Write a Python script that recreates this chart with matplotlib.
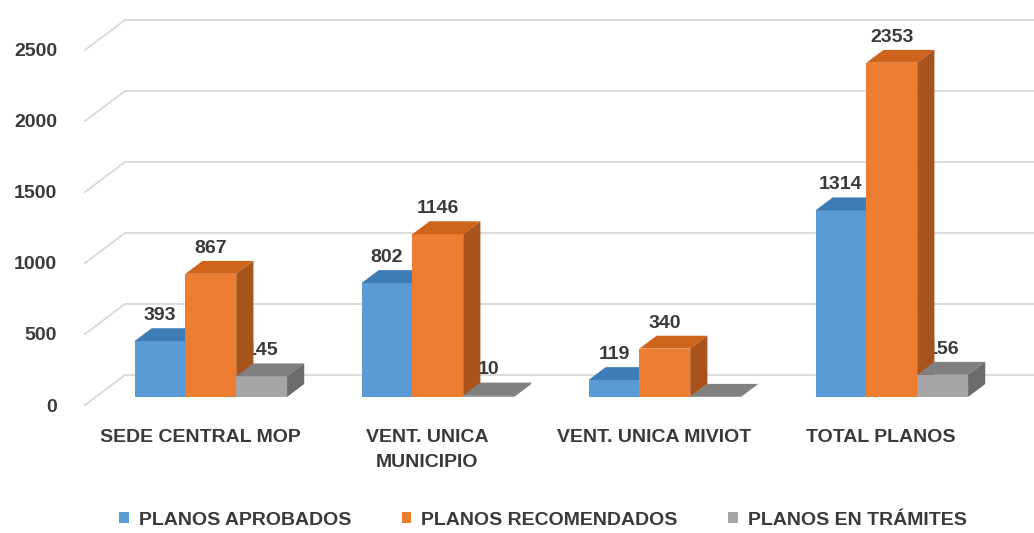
import matplotlib
matplotlib.use("Agg")
import matplotlib.pyplot as plt
from matplotlib.patches import Polygon, Patch

# data
categories = ["SEDE CENTRAL MOP", "VENT. UNICA\nMUNICIPIO", "VENT. UNICA MIVIOT", "TOTAL PLANOS"]
series_names = ["PLANOS APROBADOS", "PLANOS RECOMENDADOS", "PLANOS EN TRÁMITES"]
aprobados = [393, 802, 119, 1314]
recomendados = [867, 1146, 340, 2353]
tramites = [145, 10, 1, 156]
y_ticks = [0, 500, 1000, 1500, 2000, 2500]

# face colours (front, top, side) for each series
face_colors = [
    ("#5B9BD5", "#3E7CB8", "#2F5F8F"),
    ("#ED7D31", "#D0631B", "#A8521C"),
    ("#A5A5A5", "#808080", "#6B6B6B"),
]
text_color = "#3A3A3A"

plt.rcParams["font.family"] = ["Liberation Sans", "DejaVu Sans"]
plt.rcParams["font.weight"] = "bold"

fig = plt.figure(figsize=(10.34, 5.33), dpi=100)
ax = fig.add_axes([85 / 1034, 128 / 533, 949 / 1034, 405 / 533])
ax.set_xlim(-0.5066, 3.674)
ax.set_ylim(0, 2852)

# fake 3d geometry (data units)
depth_dx, depth_dy = 0.176, 211   # full floor depth
f_front, f_back = 0.27, 0.70      # where the bars sit in depth
bar_w = 0.224

x_left = ax.get_xlim()[0]
x_right = ax.get_xlim()[1]

# back wall gridlines + floor diagonals
for v in y_ticks:
    ax.plot([x_left, x_left + depth_dx], [v, v + depth_dy], color="#D9D9D9", lw=1.3, zorder=1, clip_on=False)
    ax.plot([x_left + depth_dx, x_right], [v + depth_dy, v + depth_dy], color="#D9D9D9", lw=1.3, zorder=1)

series = [aprobados, recomendados, tramites]
ox, oy = f_front * depth_dx, f_front * depth_dy
sx, sy = (f_back - f_front) * depth_dx, (f_back - f_front) * depth_dy

for i in range(len(categories)):
    for k, vals in enumerate(series):
        v = vals[i]
        x0 = i + ox + (k - 1.5) * bar_w
        x1 = x0 + bar_w
        front, top, side = face_colors[k]
        ax.bar(x0, v, width=bar_w, bottom=oy, align="edge", color=front, zorder=2)
        ax.add_patch(Polygon([(x0, oy + v), (x1, oy + v), (x1 + sx, oy + v + sy), (x0 + sx, oy + v + sy)],
                             closed=True, facecolor=top, edgecolor="none", zorder=2))
        ax.add_patch(Polygon([(x1, oy), (x1 + sx, oy + sy), (x1 + sx, oy + v + sy), (x1, oy + v)],
                             closed=True, facecolor=side, edgecolor="none", zorder=2))
        if v < 5:
            continue  # label hidden in the source
        ax.annotate(str(v), (x0 + bar_w / 2, oy + v + sy), xytext=(0, 3), textcoords="offset points",
                    ha="center", va="bottom", fontsize=14, color=text_color,
                    zorder=1.5 if k == 2 else 5)

ax.set_yticks(y_ticks)
ax.set_yticklabels([str(t) for t in y_ticks])
ax.set_xticks(range(len(categories)))
ax.set_xticklabels(categories, linespacing=1.65)
ax.tick_params(axis="y", length=0, pad=20, labelsize=14, labelcolor=text_color)
ax.tick_params(axis="x", length=0, pad=17, labelsize=14, labelcolor=text_color)
for s in ax.spines.values():
    s.set_visible(False)

handles = [Patch(facecolor=c[0]) for c in face_colors]
fig.legend(handles, series_names, loc="lower center", bbox_to_anchor=(0.525, -0.025), ncol=3, frameon=False,
           handlelength=0.5, handleheight=0.5, handletextpad=0.5, columnspacing=2.6,
           prop={"size": 14, "weight": "bold"}, labelcolor=text_color)

fig.savefig("out.png", dpi=100)
